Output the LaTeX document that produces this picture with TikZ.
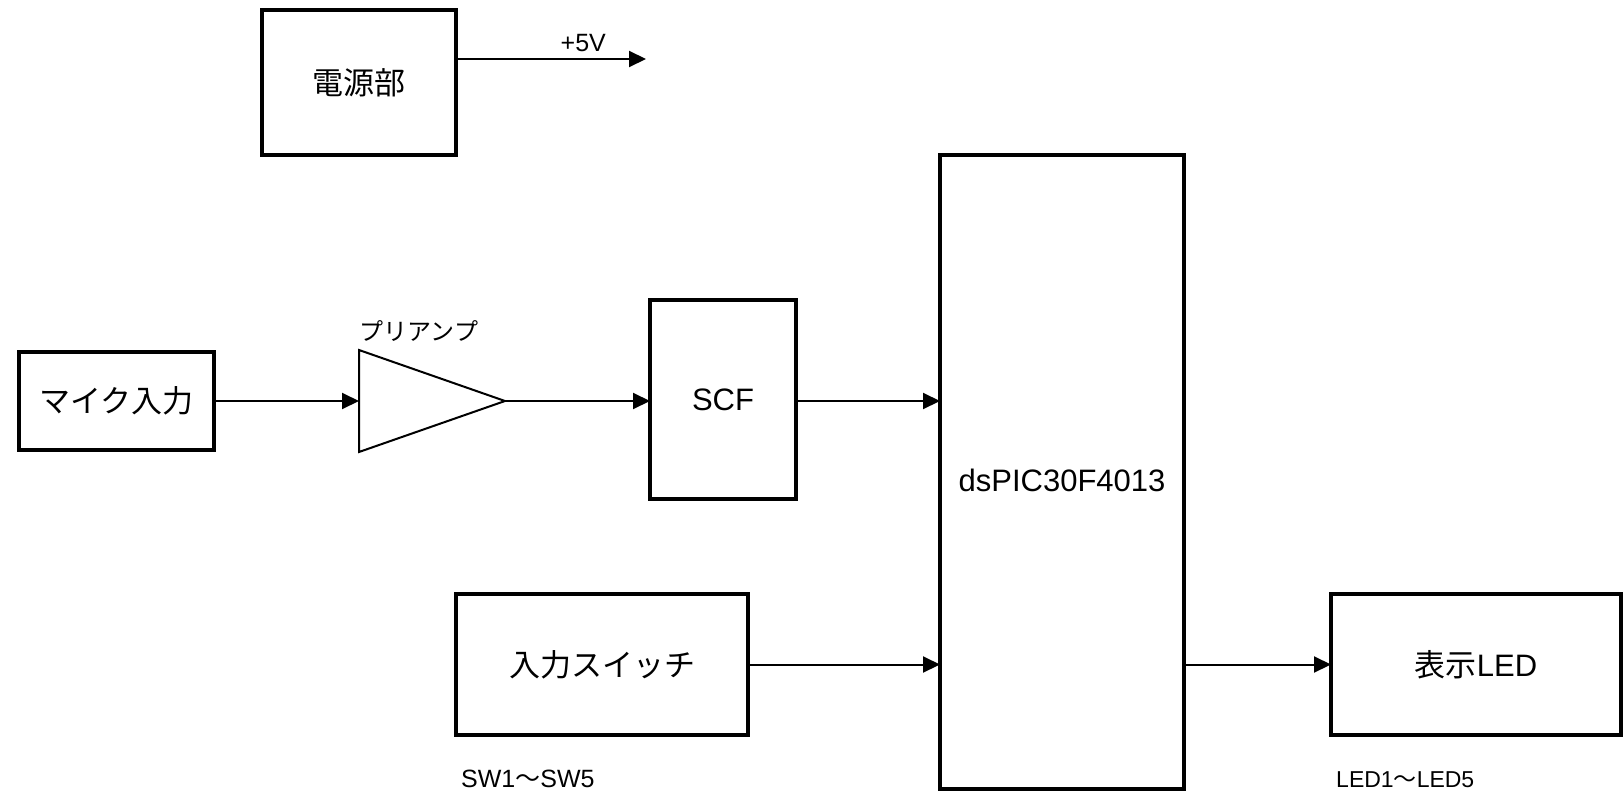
\documentclass[tikz,border=0pt]{standalone}
\usepackage{fontspec}
\setmainfont{Liberation Sans}
\newfontfamily\jpfont{Noto Sans CJK JP}
\usepackage{tikz}
\usetikzlibrary{arrows.meta,positioning,shapes.geometric,calc}
\tikzset{
    blk/.style={rectangle, draw, line width=3.5pt, inner sep=0pt, outer sep=0pt,
                align=center, font=\fontsize{31}{36}\selectfont},
    ampblk/.style={isosceles triangle, isosceles triangle stretches, draw,
                   line width=2pt, inner sep=0pt, outer sep=0pt,
                   minimum width=102pt, minimum height=146pt},
    arr/.style={-{Triangle[length=17pt,width=16pt]}, line width=2pt},
    lbl/.style={inner sep=0pt, font=\fontsize{25}{30}\selectfont},
}

\begin{document}
\begin{tikzpicture}[x=1pt, y=-1pt]
    \useasboundingbox (0,0) rectangle (1624,792);
    % blocks
    \node[blk, minimum width=194pt, minimum height=145pt] (pwr) at (359,82.5) {{\jpfont 電源部}};
    \node[blk, minimum width=195pt, minimum height=98pt] (mic) at (116.5,401) {{\jpfont マイク入力}};
    \node[ampblk, anchor=apex] (amp) at (505,401) {};
    \node[blk, minimum width=146pt, minimum height=199pt] (scf) at (723,399.5) {SCF};
    \node[blk, minimum width=244pt, minimum height=634pt] (dsp) at (1062,472) {\raisebox{-19pt}[0pt][0pt]{dsPIC30F4013}};
    \node[blk, minimum width=292pt, minimum height=141pt] (sw) at (602,664.5) {{\jpfont 入力スイッチ}};
    \node[blk, minimum width=290pt, minimum height=141pt] (led) at (1476,664.5) {{\jpfont 表示}LED};
    % labels
    \node[lbl, font=\fontsize{24}{28}\selectfont] (amplbl) at (419,331) {{\jpfont プリアンプ}};
    \node[lbl, anchor=base west] (swlbl) at ([xshift=5pt,yshift=-52pt]sw.south west) {SW1{\jpfont ～}SW5};
    \node[lbl, anchor=base west, font=\fontsize{23}{28}\selectfont] (ledlbl) at ([xshift=5pt,yshift=-52pt]led.south west) {LED1{\jpfont ～}LED5};
    % connections
    \coordinate (v5) at (646,59);
    \draw[arr] (pwr.east |- v5) -- node[lbl, above=6pt, pos=0.67] (v5lbl) {+5V} (v5);
    \draw[arr] (mic.east) -- (amp.west);
    \draw[arr] (amp.apex) -- (amp.apex -| scf.west);
    \draw[arr] (scf.east |- amp.apex) -- (amp.apex -| dsp.west);
    \draw[arr] (sw.east) -- (sw.east -| dsp.west);
    \draw[arr] (led.west -| dsp.east) -- (led.west);
\end{tikzpicture}
\end{document}
